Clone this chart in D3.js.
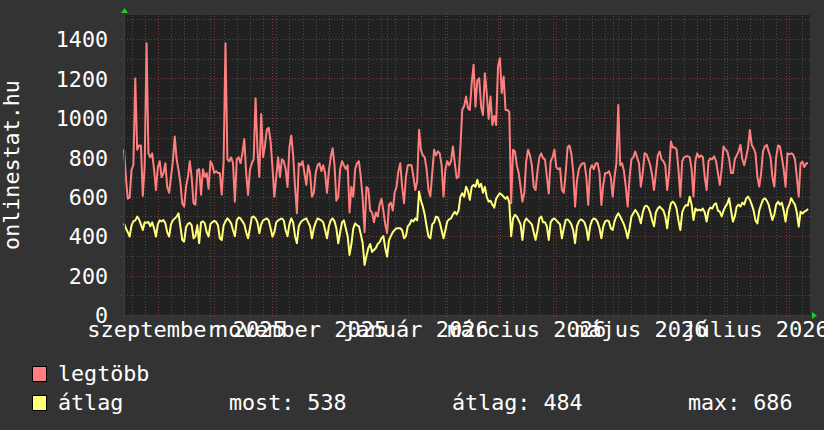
<!DOCTYPE html>
<html><head><meta charset="utf-8">
<script src="https://cdn.jsdelivr.net/npm/d3@7"></script>
<style>html,body{margin:0;padding:0;background:#333333;} svg{display:block;}</style>
</head><body><svg id="c" width="824" height="430"></svg>
<script>
// ---- data ----
const startDate = [2025, 7, 14]; // first daily sample (UTC y, m0, d)
const seriesNames = ["legtöbb", "átlag"];
const maxValues = [
840,700,590,595,736,760,1200,838,860,860,
604,760,1379,820,800,820,736,634,750,780,
700,720,770,650,620,700,780,905,790,736,
670,567,550,650,700,780,700,567,560,736,
740,610,740,700,720,640,780,760,720,730,
720,720,610,780,1379,790,780,800,770,575,
790,800,770,820,893,720,609,736,770,790,
1100,840,700,1020,800,860,940,950,880,750,
600,700,800,700,790,780,740,650,850,910,
810,650,516,770,760,780,720,660,760,720,
600,620,720,760,770,730,760,720,620,730,
800,846,760,580,600,740,780,760,740,760,
520,650,600,740,770,780,700,590,420,650,
640,530,520,470,520,500,560,590,530,460,
415,560,570,530,620,650,730,770,650,567,
700,760,761,760,700,634,680,940,838,810,
800,740,634,601,720,838,810,830,820,760,
601,740,780,760,780,855,770,694,700,855,
1041,1060,1108,1050,1040,1176,1269,1057,1190,1201,
1057,1015,1227,1126,995,1108,964,1010,964,1261,
1303,1126,1210,1040,1040,1030,567,838,830,760,
720,650,575,620,780,838,810,760,650,634,
730,800,820,795,790,702,617,780,800,838,
750,740,745,634,620,720,850,860,820,730,
550,680,740,760,770,770,700,558,740,760,
740,770,770,720,558,660,720,720,730,700,
601,700,770,1066,760,770,730,650,550,700,
790,800,829,800,770,651,720,821,815,790,
760,710,634,720,810,829,790,780,760,634,
720,880,850,850,840,740,600,780,800,805,
805,800,740,601,780,820,800,810,800,700,
634,780,795,790,805,780,720,660,740,855,
840,830,790,720,720,790,810,829,863,790,
760,800,846,939,863,846,820,700,651,720,
830,855,863,830,800,700,651,800,860,855,
800,740,651,820,815,820,815,790,700,601,
770,778,750,770,770];
const avgValues = [
465,440,420,398,455,475,480,499,485,460,
431,470,468,472,450,470,440,398,460,480,
475,482,465,420,398,460,480,490,499,516,
450,381,372,445,462,468,455,389,400,455,
364,470,475,465,420,398,462,470,478,472,
455,389,380,455,475,490,480,465,430,400,
480,495,490,475,460,420,389,440,495,500,
490,470,415,460,480,485,490,480,440,398,
420,470,480,485,490,480,430,400,460,490,
470,400,364,450,470,480,485,490,470,450,
389,440,470,490,485,480,470,431,389,450,
480,490,475,440,364,420,470,480,440,400,
305,360,440,465,455,450,410,364,254,300,
340,360,320,330,340,360,370,390,400,340,
296,380,400,420,431,440,440,440,430,389,
400,450,460,482,475,490,480,626,580,550,
510,450,398,389,460,470,499,495,470,430,
389,430,475,485,490,510,524,510,530,600,
618,600,651,630,584,650,660,650,686,650,
665,620,650,600,575,580,560,545,590,605,
618,610,600,590,600,570,400,490,508,500,
480,460,381,470,490,480,470,460,420,381,
430,490,500,470,470,450,381,470,485,490,
480,470,460,389,440,482,485,475,460,430,
364,450,475,485,480,470,440,381,450,480,
490,485,470,440,389,450,475,480,475,440,
431,475,500,516,500,480,460,430,389,440,
500,516,533,520,500,465,520,550,555,545,
520,480,450,520,540,550,540,530,500,440,
520,567,575,565,540,480,431,520,545,558,
555,600,560,482,540,530,535,530,540,520,
474,530,545,540,560,567,530,524,500,530,
550,565,592,530,474,500,550,560,550,570,
560,590,601,585,560,530,480,465,530,560,
585,592,580,560,520,482,510,560,575,560,
570,530,474,540,560,592,575,560,520,448,
524,515,524,530,538];
const yTicks = [0,200,400,600,800,1000,1200,1400];
const monthLabels = ["szeptember 2025","november 2025","január 2026","március 2026","május 2026","július 2026"];
const labelMonths = [[2025,8],[2025,10],[2026,0],[2026,2],[2026,4],[2026,6]];
const avgStats = ["most: 538","átlag: 484","max: 686"];

// ---- layout ----
const L=124, R=810, T=15, B=315;
const FONT = "'DejaVu Sans Mono', monospace";
const FS = "21.7px";
const svg = d3.select("#c");
svg.append("rect").attr("width",824).attr("height",430).attr("fill","#333333");
svg.append("rect").attr("x",L).attr("y",T).attr("width",R-L).attr("height",B-T).attr("fill","#212121");

const t0 = new Date(Date.UTC(startDate[0],startDate[1],startDate[2]));
const t1 = d3.utcDay.offset(t0, 365);
const x = d3.scaleUtc().domain([t0,t1]).range([L,R]);
const y = d3.scaleLinear().domain([0,1522]).range([B,T]);

const MINOR="#4b4b4b", MAJOR="#7a3838";
const grid = svg.append("g");
// horizontal minor
d3.range(100,1501,200).forEach(v=>{
  grid.append("line").attr("x1",L-3).attr("x2",R+2).attr("y1",Math.round(y(v))+0.5).attr("y2",Math.round(y(v))+0.5)
   .attr("stroke",MINOR).attr("stroke-dasharray","1,2");
});
// vertical weekly
d3.utcMonday.range(t0,t1).forEach(d=>{
  const xx=Math.round(x(d))+0.5;
  grid.append("line").attr("x1",xx).attr("x2",xx).attr("y1",T-2).attr("y2",B+3)
   .attr("stroke",MINOR).attr("stroke-dasharray","1,2");
});
// vertical monthly
d3.utcMonth.range(d3.utcDay.offset(t0,1),t1).forEach(d=>{
  const xx=Math.round(x(d))+0.5;
  grid.append("line").attr("x1",xx).attr("x2",xx).attr("y1",T-2).attr("y2",B+3)
   .attr("stroke",MAJOR).attr("stroke-dasharray","1,2");
});
// horizontal major
yTicks.forEach(v=>{
  if(v===0) return;
  grid.append("line").attr("x1",L-3).attr("x2",R+2).attr("y1",Math.round(y(v))+0.5).attr("y2",Math.round(y(v))+0.5)
   .attr("stroke",MAJOR).attr("stroke-dasharray","1,2");
});

// lines
const line = d3.line().x((d,i)=>x(d3.utcDay.offset(t0,i))).y(d=>y(d));
svg.append("path").datum(maxValues).attr("d",line).attr("fill","none")
  .attr("stroke","#ff7f7f").attr("stroke-width",2).attr("stroke-linejoin","round");
svg.append("path").datum(avgValues).attr("d",line).attr("fill","none")
  .attr("stroke","#ffff7a").attr("stroke-width",2).attr("stroke-linejoin","round");

// axes lines
svg.append("line").attr("x1",L-4).attr("x2",R+3).attr("y1",B+0.5).attr("y2",B+0.5).attr("stroke","#3c3c3c");
svg.append("line").attr("x1",L+0.5).attr("x2",L+0.5).attr("y1",B+4).attr("y2",T-3).attr("stroke","#3c3c3c");
// arrows
svg.append("path").attr("d",`M${L-3},${T-2} L${L+4},${T-2} L${L+0.5},${T-7} Z`).attr("fill","#22cc22");
svg.append("path").attr("d",`M${R+2},${B-3} L${R+2},${B+4} L${R+7},${B+0.5} Z`).attr("fill","#22cc22");

// y axis labels
const ya = svg.append("g").attr("transform",`translate(${L},0)`)
  .call(d3.axisLeft(y).tickValues(yTicks).tickFormat(d3.format("d")).tickSize(0).tickPadding(16));
ya.select(".domain").remove();
ya.selectAll("text").attr("fill","#ffffff").style("font-family",FONT).style("font-size",FS).attr("dy","0.36em");

// x axis labels (centered half a month after month start)
const labelDates = labelMonths.map(m=>d3.utcDay.offset(new Date(Date.UTC(m[0],m[1],1)),15));
const xa = svg.append("g").attr("transform",`translate(0,${B})`)
  .call(d3.axisBottom(x).tickValues(labelDates).tickSize(0).tickPadding(0)
    .tickFormat((d,i)=>monthLabels[i]));
xa.select(".domain").remove();
xa.selectAll("text").attr("fill","#ffffff").style("font-family",FONT).style("font-size","22px")
  .attr("y",22).attr("dy",0);

// y title
svg.append("text").attr("transform","translate(19,165) rotate(-90)").attr("text-anchor","middle")
  .attr("fill","#ffffff").style("font-family",FONT).style("font-size",FS).text("onlinestat.hu");

// legend
const legColors = ["#ff7f7f","#ffff7a"];
const legY = [381,410];
seriesNames.forEach((n,i)=>{
  svg.append("rect").attr("x",32.5).attr("y",legY[i]-14.5).attr("width",14).attr("height",15)
    .attr("fill",legColors[i]).attr("stroke","#000").attr("stroke-width",1);
  svg.append("text").attr("x",58).attr("y",legY[i]).attr("fill","#fff")
    .style("font-family",FONT).style("font-size",FS).text(n);
});
const statX = [229,452,688];
avgStats.forEach((s,i)=>{
  svg.append("text").attr("x",statX[i]).attr("y",legY[1]).attr("fill","#fff")
    .style("font-family",FONT).style("font-size",FS).text(s);
});
</script></body></html>
